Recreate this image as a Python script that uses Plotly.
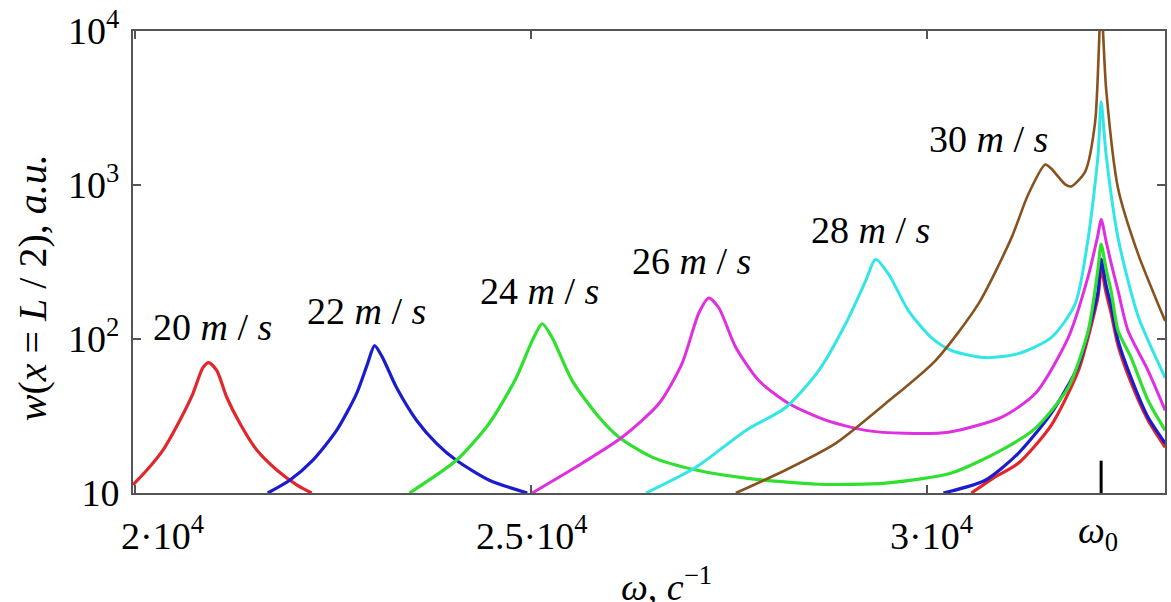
import math
import plotly.graph_objects as go

# ---------------- data ----------------
OMEGA0 = 32191  # resonance frequency ω0

speeds = ["20", "22", "24", "26", "28", "30"]

w20 = [19975, 20151, 20353, 20567, 20731, 20857, 20932, 21033, 21159, 21323, 21537, 21789, 22040, 22229, None,
       30554, 30831, 31146, 31561, 31902, 32065, 32153, 32191, 32254, 32317, 32405, 32569, 32783, 33000]
a20 = [11.3, 14.1, 19.0, 29.7, 44.2, 65.2, 70.3, 62.3, 41.7, 28.4, 19.0, 14.1, 11.3, 10.0, None,
       10.0, 12.5, 15.6, 27.5, 62.0, 122, 190, 284, 199, 147, 90.6, 52.0, 29.7, 19.8]

w22 = [21675, 21952, 22242, 22544, 22796, 22935, 23023, 23124, 23300, 23552, 23804, 24055, 24471, 24950, None,
       30201, 30730, 31146, 31561, 31902, 32065, 32153, 32191, 32254, 32317, 32405, 32569, 32783, 33000]
a22 = [10.0, 12.1, 16.3, 25.5, 44.2, 69.2, 90.6, 75.7, 48.4, 29.7, 21.0, 16.3, 12.1, 10.0, None,
       10.0, 12.1, 18.1, 32.9, 67.0, 131, 205, 330, 222, 164, 97.6, 56.0, 31.0, 21.0]

w24 = [23464, 24055, 24471, 24811, 25013, 25139, 25264, 25516, 25856, 26108, 26524, 27078, 27708, 28627,
       29471, 30302, 30932, 31360, 31776, 32028, 32153, 32191, 32254, 32317, 32405, 32569, 32783, 33000]
a24 = [10.0, 16.3, 28.4, 56.1, 97.6, 125.6, 102.0, 53.7, 31.0, 23.0, 17.1, 14.1, 12.5, 11.4,
       11.6, 13.5, 19.0, 26.3, 48.4, 113, 289, 413, 284, 205, 113, 75.7, 39.9, 25.5]

w26 = [25013, 25642, 26146, 26612, 26902, 27116, 27242, 27368, 27582, 27871, 28249, 28715, 29219, 29723,
       30264, 30932, 31360, 31776, 32028, 32153, 32191, 32254, 32317, 32405, 32531, 32783, 33000]
a26 = [10.0, 15.6, 23.0, 38.1, 69.2, 148, 184.6, 159, 88.0, 53.7, 38.1, 29.7, 25.5, 24.4,
       24.8, 31.0, 44.2, 102, 256, 480, 600, 431, 311, 205, 113, 62.4, 34.4]

w28 = [26448, 27078, 27708, 28211, 28627, 28967, 29219, 29345, 29509, 29761, 30050, 30302, 30730, 31146,
       31561, 31864, 32028, 32153, 32191, 32254, 32405, 32657, 33000]
a28 = [10.0, 14.7, 25.5, 35.9, 62.3, 125.6, 238, 330, 264, 152.5, 102, 84.2, 75.7, 80.4,
       102, 169, 452, 1573, 3470, 1573, 452, 141, 56.0]

w30 = [27582, 28211, 28841, 29471, 30101, 30642, 31058, 31272, 31486, 31561, 31738, 31813, 31990, 32116,
       32191, 32254, 32405, 32657, 32909, 33000]
a30 = [10.0, 14.1, 21.0, 38.1, 72.4, 169, 452, 870, 1358, 1280, 1009, 979, 1223, 2580,
       15000, 4210, 950, 357, 169, 131]

series_w = [w20, w22, w24, w26, w28, w30]
series_a = [a20, a22, a24, a26, a28, a30]
colors = ["#e3262b", "#1c1ccf", "#2fe02f", "#e02fe0", "#33e6e6", "#87521e"]
widths = [3.2, 3.2, 3.2, 3.0, 3.0, 2.6]

# label centre positions (ω, amplitude) for the speed labels
label_w = [20983, 22922, 25101, 27028, 29282, 30768]
label_a = [120, 152, 205, 321, 509, 2000]

x_tickvals = [20000, 25000, 30000]
x_ticktext = ["2·10<sup>4</sup>", "2.5·10<sup>4</sup>", "3·10<sup>4</sup>"]
y_tickvals = [10, 100, 1000, 10000]
y_ticktext = ["10", "10<sup>2</sup>", "10<sup>3</sup>", "10<sup>4</sup>"]

FONT = "Liberation Serif"
FS = 38

fig = go.Figure()
for w, a, c, lw in zip(series_w, series_a, colors, widths):
    fig.add_trace(go.Scatter(x=w, y=a, mode="lines",
                             line=dict(color=c, width=lw, shape="spline", smoothing=0.7),
                             connectgaps=False, showlegend=False, hoverinfo="skip"))

for s, lw_, la in zip(speeds, label_w, label_a):
    fig.add_annotation(x=lw_, y=math.log10(la), xref="x", yref="y", xanchor="center", yanchor="middle",
                       showarrow=False, text=f"{s} <i>m</i> / <i>s</i>",
                       font=dict(family=FONT, size=FS, color="black"))

# x tick labels (placed under the axis)
x_label_shift = [28, 0, 4]
for v, t, sh in zip(x_tickvals, x_ticktext, x_label_shift):
    fig.add_annotation(x=v, y=0, xref="x", yref="paper", xanchor="center", yanchor="top", xshift=sh, yshift=-14,
                       showarrow=False, text=t, font=dict(family=FONT, size=FS, color="black"))
fig.add_annotation(x=OMEGA0, y=0, xref="x", yref="paper", xanchor="center", yanchor="top", xshift=-3, yshift=-14,
                   showarrow=False, text="<i>ω</i><sub>0</sub>", font=dict(family=FONT, size=FS, color="black"))

# ω0 tick mark
fig.add_shape(type="line", x0=OMEGA0, x1=OMEGA0, y0=0, y1=0.07, xref="x", yref="paper",
              line=dict(color="black", width=3))

# axis titles
fig.add_annotation(x=-0.097, y=0.445, xref="paper", yref="paper", xanchor="center", yanchor="middle",
                   textangle=-90, showarrow=False,
                   text="<i>w</i>(<i>x</i> = <i>L</i> / 2), <i>a.u.</i>",
                   font=dict(family=FONT, size=40, color="black"))
fig.add_annotation(x=0.517, y=-0.14, xref="paper", yref="paper", xanchor="center", yanchor="top",
                   showarrow=False, text="<i>ω</i>, <i>c</i><sup>−1</sup>",
                   font=dict(family=FONT, size=FS, color="black"))

fig.update_xaxes(range=[19975, 32997], tickvals=x_tickvals, showticklabels=False,
                 ticks="inside", ticklen=8, tickwidth=2, tickcolor="#555",
                 showline=True, linecolor="#555", linewidth=2, mirror="allticks",
                 showgrid=False, zeroline=False)
fig.update_yaxes(type="log", range=[1, 4], tickvals=y_tickvals, ticktext=y_ticktext,
                 ticks="inside", ticklen=8, tickwidth=2, tickcolor="#555",
                 showline=True, linecolor="#555", linewidth=2, mirror="allticks",
                 showgrid=False, zeroline=False, ticklabelstandoff=4,
                 tickfont=dict(family=FONT, size=FS, color="black"))

fig.update_layout(width=1171, height=602, margin=dict(l=133, r=4, t=29, b=109),
                  paper_bgcolor="white", plot_bgcolor="white", showlegend=False,
                  font=dict(family=FONT, size=FS, color="black"))

fig.write_html("out.html")
